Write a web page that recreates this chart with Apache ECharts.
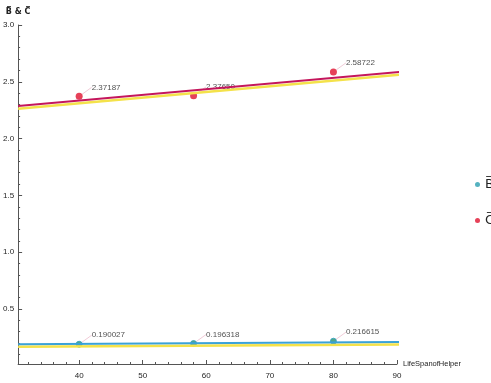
<!DOCTYPE html>
<html>
<head>
<meta charset="utf-8">
<script src="https://cdn.jsdelivr.net/npm/echarts@6/dist/echarts.min.js"></script>
<style>
  html, body { margin: 0; padding: 0; background: #ffffff; }
  #chart { width: 491px; height: 383px; }
</style>
</head>
<body>
<div id="chart"></div>
<script>
// Helper life span values at which B̄ and C̄ were computed
const lifeSpan = [40, 58, 80];
const bBar = [0.190027, 0.196318, 0.216615];
const cBar = [2.37187, 2.37650, 2.58722];

// Trend lines across the plotted range (start and end points)
const lineX = [30.4, 90.4];
const bTrend = [0.189, 0.209];
const bTrendLower = [0.167, 0.187];
const cTrend = [2.287, 2.586];
const cTrendLower = [2.263, 2.562];

const pairs = (xs, ys) => xs.map((x, i) => [x, ys[i]]);

const chart = echarts.init(document.getElementById('chart'), null, { renderer: 'canvas' });

const axisColor = '#555555';
const labelFont = { fontFamily: 'Liberation Sans, Arial, sans-serif', fontSize: 8, color: '#1e1e1e' };

function pointLabels(decimals, lineColor) {
  return {
    label: {
      show: true,
      position: 'right',
      distance: 5,
      formatter: p => p.value[1].toFixed(decimals),
      fontFamily: 'Liberation Sans, Arial, sans-serif',
      fontSize: 8,
      color: '#1e1e1e'
    },
    labelLayout: { dx: 4, dy: -9 },
    labelLine: { show: true, lineStyle: { color: lineColor, width: 0.6 } }
  };
}

chart.setOption({
  animation: false,
  backgroundColor: '#ffffff',
  grid: { left: 17, right: 94, top: 25, bottom: 19, containLabel: false },
  legend: {
    orient: 'vertical',
    left: 470,
    top: 173,
    itemGap: 23,
    itemWidth: 5,
    itemHeight: 5,
    icon: 'circle',
    textStyle: { fontFamily: 'DejaVu Sans, sans-serif', fontSize: 13, color: '#222', padding: [0, 0, 0, 0] },
    data: [
      { name: 'B\u0305', itemStyle: { color: '#2a9fb0', borderWidth: 0 } },
      { name: 'C\u0305', itemStyle: { color: '#e0122e', borderWidth: 0 } }
    ]
  },
  xAxis: {
    type: 'value',
    min: 30.4,
    max: 90,
    name: 'LifeSpanofHelper',
    nameLocation: 'end',
    nameGap: 6,
    nameTextStyle: { ...labelFont, fontSize: 7.5, padding: [6, 0, 0, 0] },
    axisLine: { show: true, lineStyle: { color: axisColor, width: 1 } },
    axisTick: { show: true, inside: true, length: 4, lineStyle: { color: axisColor } },
    minorTick: { show: true, splitNumber: 5, length: 2, lineStyle: { color: axisColor } },
    axisLabel: { ...labelFont, margin: 8, showMinLabel: false, formatter: v => String(Math.round(v)) },
    splitLine: { show: false }
  },
  yAxis: {
    type: 'value',
    min: 0.016,
    max: 3.0,
    name: 'B\u0305 & C\u0305',
    nameLocation: 'end',
    nameGap: 9,
    nameTextStyle: { fontFamily: 'DejaVu Sans, sans-serif', fontSize: 8, color: '#222', fontWeight: 'bold' },
    axisLine: { show: true, lineStyle: { color: axisColor, width: 1 } },
    axisTick: { show: true, inside: true, length: 4, lineStyle: { color: axisColor } },
    minorTick: { show: true, splitNumber: 5, length: 2, lineStyle: { color: axisColor } },
    axisLabel: { ...labelFont, margin: 4, showMinLabel: false, formatter: v => v.toFixed(1) },
    splitLine: { show: false }
  },
  series: [
    {
      type: 'line', name: 'cLower', data: pairs(lineX, cTrendLower), clip: false,
      showSymbol: false, silent: true, lineStyle: { color: '#f4e24a', width: 2.5 }
    },
    {
      type: 'line', name: 'bLower', data: pairs(lineX, bTrendLower), clip: false,
      showSymbol: false, silent: true, lineStyle: { color: '#f4e24a', width: 2.5 }
    },
    {
      type: 'line', name: 'cLine', data: pairs(lineX, cTrend), clip: false,
      showSymbol: false, silent: true, lineStyle: { color: '#c4165c', width: 2 }
    },
    {
      type: 'line', name: 'bLine', data: pairs(lineX, bTrend), clip: false,
      showSymbol: false, silent: true, lineStyle: { color: '#3aa2d8', width: 2 }
    },
    {
      type: 'scatter', name: 'B\u0305', data: pairs(lifeSpan, bBar),
      symbol: 'circle', symbolSize: 6,
      itemStyle: { color: '#2a8f6a', borderColor: '#2aa0c0', borderWidth: 1 },
      ...pointLabels(6, '#e6a8bc')
    },
    {
      type: 'scatter', name: 'C\u0305', data: pairs(lifeSpan, cBar),
      symbol: 'circle', symbolSize: 7,
      itemStyle: { color: '#e0122e' },
      ...pointLabels(5, '#e6a8bc')
    }
  ]
});
</script>
</body>
</html>
